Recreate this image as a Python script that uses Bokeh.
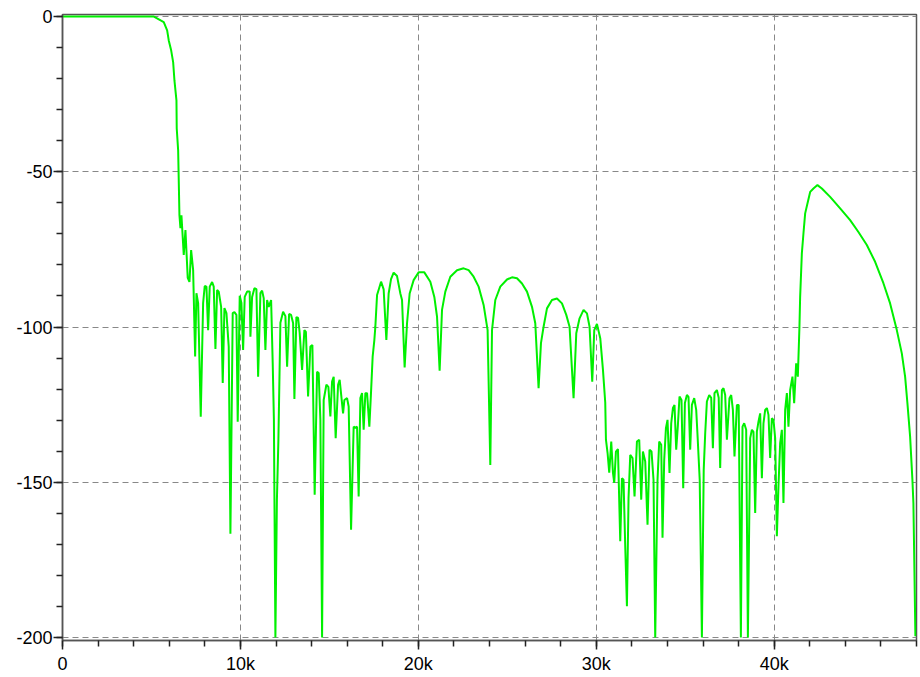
from bokeh.plotting import figure
from bokeh.models import Range1d, FixedTicker
from bokeh.embed import file_html
from bokeh.resources import INLINE

# Frequency (Hz) and magnitude (dB)
freq_hz = [
    0, 5112, 5691, 5882, 5972, 6107, 6219, 6292, 6405, 6420, 6500, 6545, 6573, 6629, 6685, 6815,
    6910, 7039, 7135, 7230, 7343, 7455, 7528, 7624, 7770, 7904, 7994, 8090, 8185, 8275, 8410,
    8500, 8596, 8691, 8781, 8916, 9006, 9101, 9214, 9343, 9438, 9567, 9663, 9775, 9848, 9961,
    10056, 10152, 10242, 10376, 10522, 10562, 10657, 10787, 10899, 10995, 11124, 11219, 11309,
    11405, 11500, 11590, 11725, 11815, 11882, 11966, 12051, 12135, 12247, 12399, 12528, 12624,
    12736, 12848, 12961, 13034, 13146, 13242, 13331, 13466, 13596, 13680, 13803, 13933, 14045,
    14174, 14309, 14399, 14494, 14590, 14680, 14832, 14944, 15056, 15152, 15242, 15354, 15489,
    15578, 15770, 15843, 15994, 16084, 16219, 16365, 16461, 16556, 16646, 16742, 16837, 16927,
    17023, 17118, 17247, 17343, 17433, 17528, 17584, 17680, 17792, 17905, 18051, 18202, 18331,
    18466, 18612, 18803, 18989, 19084, 19230, 19365, 19512, 19736, 20017, 20337, 20674, 20899,
    21051, 21197, 21331, 21517, 21798, 22174, 22545, 22826, 23107, 23388, 23669, 23893, 24045,
    24141, 24326, 24607, 24983, 25264, 25545, 25826, 26107, 26388, 26573, 26759, 26893, 27040,
    27231, 27511, 27792, 28073, 28315, 28500, 28725, 28877, 29062, 29287, 29478, 29624, 29775,
    29888, 30039, 30225, 30377, 30506, 30545, 30635, 30730, 30843, 30938, 31011, 31107, 31219,
    31348, 31444, 31533, 31629, 31724, 31815, 31910, 32039, 32152, 32287, 32416, 32528, 32624,
    32753, 32882, 32994, 33107, 33219, 33315, 33444, 33539, 33652, 33725, 33820, 33916, 34006,
    34118, 34214, 34309, 34399, 34494, 34590, 34680, 34792, 34888, 34983, 35095, 35185, 35280,
    35376, 35506, 35618, 35691, 35815, 35938, 36040, 36124, 36219, 36349, 36461, 36556, 36646,
    36781, 36882, 36966, 37062, 37152, 37247, 37343, 37489, 37585, 37680, 37770, 37905, 38006,
    38129, 38221, 38315, 38427, 38523, 38652, 38747, 38837, 38933, 39028, 39118, 39213, 39309,
    39399, 39495, 39590, 39680, 39775, 39871, 39961, 40056, 40152, 40242, 40337, 40433, 40523,
    40618, 40714, 40804, 40899, 41028, 41124, 41236, 41331, 41421, 41460, 41556, 41646, 41742,
    41871, 42023, 42208, 42433, 42680, 43146, 43708, 44270, 44736, 45208, 45674, 46140, 46517,
    46893, 47174, 47360, 47489, 47641, 47770, 47826, 47882, 47938,
]
mag_db = [
    0, 0, -1.8, -4.5, -7.7, -10.9, -14.7, -20.6, -27.0, -36.0, -43.1, -56.0, -64.0, -68.2, -64.0, -76.8,
    -68.8, -84.2, -85.5, -75.2, -81.7, -109.5, -89.1, -92.3, -128.9, -92.3, -86.8, -87.0, -101.0, -87.0, -85.5,
    -87.0, -107.1, -88.1, -88.6, -93.5, -118.0, -93.9, -95.5, -106.3, -166.6, -95.5, -95.2, -96.1, -130.5, -89.9,
    -92.3, -107.4, -90.3, -88.6, -88.6, -103.1, -90.3, -87.5, -87.8, -116.0, -89.1, -88.3, -90.7,
    -107.4, -91.3, -93.5, -91.3, -111.6, -129.9, -200.0, -155.6, -136.3, -98.6, -95.1, -96.5, -112.8,
    -95.8, -96.1, -98.7, -123.2, -96.8, -97.1, -101.9, -113.8, -101.0, -101.6, -122.4, -106.3, -105.8,
    -154.0, -114.4, -114.8, -129.9, -200.0, -123.5, -118.6, -119.3, -128.8, -117.6, -116.0, -135.8, -118.6,
    -117.0, -127.8, -123.5, -122.9, -125.6, -165.3, -132.1, -132.5, -132.1, -154.6, -122.9, -121.3, -133.1,
    -121.3, -121.3, -132.1, -120.8, -109.5, -104.2, -99.9, -89.7, -87.6, -85.4, -87.9, -104.2, -89.2,
    -84.6, -82.5, -83.6, -89.2, -91.3, -113.0, -98.8, -89.2, -84.9, -82.4, -82.4, -85.4, -90.3,
    -96.7, -114.1, -94.5, -88.6, -83.8, -81.7, -81.1, -81.7, -83.8, -87.0, -92.9, -101.0, -144.4,
    -101.0, -91.3, -87.0, -84.7, -84.0, -84.3, -86.0, -88.6, -93.5, -98.8, -119.7, -105.2, -99.9,
    -94.0, -91.3, -90.8, -92.4, -96.1, -99.9, -122.9, -102.0, -97.2, -94.5, -95.6, -99.9, -117.6,
    -101.0, -99.0, -103.6, -113.8, -124.4, -136.3, -140.5, -146.9, -136.9, -146.9, -150.2, -140.1, -139.3,
    -169.0, -148.7, -149.2, -170.6, -189.9, -155.1, -141.2, -142.2, -154.6, -136.9, -136.3, -155.6, -140.1,
    -143.3, -163.7, -139.5, -140.1, -149.2, -200.0, -149.2, -136.9, -137.9, -167.9, -142.8, -132.6, -129.9,
    -147.0, -131.0, -126.1, -125.1, -139.5, -131.5, -122.4, -123.5, -151.9, -124.5, -121.9, -122.5, -139.5,
    -125.1, -122.9, -126.7, -134.7, -149.2, -200.0, -146.0, -134.2, -124.0, -121.9, -122.8, -139.0, -121.3,
    -120.3, -122.8, -145.4, -120.3, -119.7, -121.9, -136.3, -122.9, -121.9, -126.7, -141.7, -125.1, -125.1,
    -200.0, -132.1, -131.0, -133.1, -200.0, -135.8, -133.1, -133.8, -159.9, -133.7, -130.5, -127.8, -148.7,
    -131.0, -126.7, -126.1, -128.3, -142.2, -129.4, -129.9, -135.8, -167.4, -151.3, -137.4, -133.1, -156.7,
    -126.7, -121.3, -132.1, -120.3, -116.0, -124.5, -111.7, -116.0, -99.9, -90.3, -76.3, -69.9, -63.4,
    -60.2, -56.5, -55.4, -54.3, -55.4, -58.1, -61.8, -65.6, -69.4, -73.6, -79.0, -85.9, -92.4,
    -101.0, -108.5, -116.0, -124.5, -135.3, -149.2, -156.7, -178.1, -199.6,
]

x_ticks = [0, 10000, 20000, 30000, 40000]
x_tick_labels = ["0", "10k", "20k", "30k", "40k"]
x_minor_ticks = list(range(0, 48001, 2000))
y_ticks = [-200, -150, -100, -50, 0]
y_tick_labels = ["-200", "-150", "-100", "-50", "0"]
y_minor_ticks = list(range(-200, 1, 10))

p = figure(width=918, height=676, output_backend="svg", toolbar_location=None,
           x_range=Range1d(0, 48000), y_range=Range1d(-200.96, 0.64),
           min_border_left=62, min_border_right=2, min_border_top=14, min_border_bottom=35)

p.line(freq_hz, mag_db, line_color="#00f000", line_width=2)

p.xaxis.ticker = FixedTicker(ticks=x_ticks, minor_ticks=x_minor_ticks)
p.yaxis.ticker = FixedTicker(ticks=y_ticks, minor_ticks=y_minor_ticks)
p.xaxis.major_label_overrides = dict(zip(x_ticks, x_tick_labels))
p.yaxis.major_label_overrides = dict(zip(y_ticks, y_tick_labels))

for ax in (p.xaxis, p.yaxis):
    ax.axis_line_color = "#555555"
    ax.axis_line_width = 1.5
    ax.major_tick_line_color = "#222222"
    ax.minor_tick_line_color = "#222222"
    ax.major_tick_line_width = 1.5
    ax.minor_tick_line_width = 1.5
    ax.major_tick_in = 0
    ax.major_tick_out = 9
    ax.minor_tick_in = 0
    ax.minor_tick_out = 6
    ax.major_label_text_font = "Liberation Sans"
    ax.major_label_text_font_size = "18px"
    ax.major_label_text_color = "#000000"
p.xaxis.major_label_standoff = 4
p.yaxis.major_label_standoff = 1

p.grid.grid_line_color = "#888888"
p.grid.grid_line_dash = "6 4"
p.grid.grid_line_width = 1

p.outline_line_color = "#555555"
p.outline_line_width = 1.5
p.background_fill_color = "white"
p.border_fill_color = "white"

open("out.html", "w").write(file_html(p, INLINE))
